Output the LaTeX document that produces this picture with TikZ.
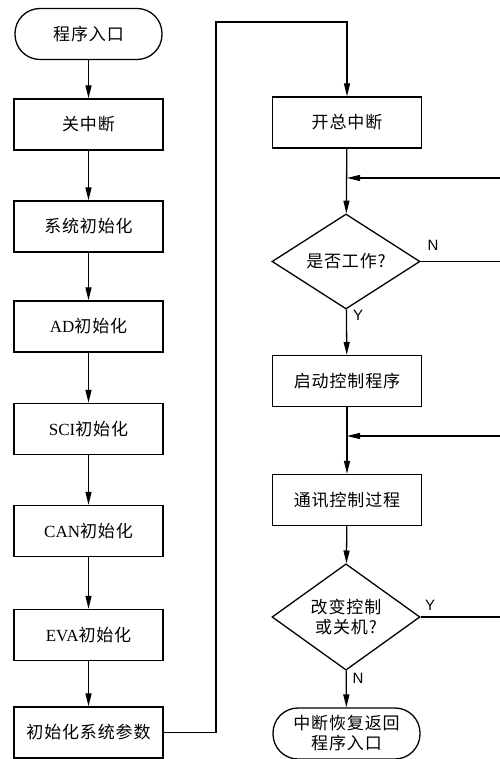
\documentclass[tikz,border=0pt]{standalone}
\usepackage{fontspec}
\setmainfont{Liberation Serif}
\newfontfamily\cjk[LetterSpace=5]{Noto Sans CJK SC}
\newfontfamily\labfont{Liberation Sans}
\usetikzlibrary{shapes.geometric,arrows.meta}

\tikzset{
    procbox/.style={draw, line width=1.3pt, minimum width=149pt, minimum height=51pt,
        inner sep=0pt, align=center, font=\cjk\fontsize{17}{20}\selectfont},
    termbox/.style={procbox, minimum width=147pt, rounded corners=25pt},
    decbox/.style={draw, diamond, line width=1.3pt, minimum width=148pt, minimum height=88pt,
        inner sep=0pt, align=center, font=\cjk\fontsize{17}{20}\selectfont},
    flowline/.style={line width=1.3pt, -{Triangle[length=13pt,width=6pt]}},
    plainline/.style={line width=1.3pt},
    yn/.style={font=\labfont\fontsize{15}{16}\selectfont, inner sep=1pt}
}

\begin{document}
\begin{tikzpicture}[x=1pt,y=1pt]
        \useasboundingbox (0,0) rectangle (499,759);

        % left column
        \node[termbox] (start)  at (88.5,725)   {程序入口};
        \node[procbox] (guan)   at (88.5,634.5) {关中断};
        \node[procbox] (xitong) at (88.5,532.5) {系统初始化};
        \node[procbox] (ad)     at (88.5,432.5) {{\rmfamily AD}初始化};
        \node[procbox] (sci)    at (88.5,330)   {{\rmfamily SCI}初始化};
        \node[procbox] (can)    at (88.5,228)   {{\rmfamily CAN}初始化};
        \node[procbox] (eva)    at (88.5,124)   {{\rmfamily EVA}初始化};
        \node[procbox] (canshu) at (88.5,26.5)  {初始化系统参数};

        % right column
        \node[procbox] (kaizong) at (347,636.5) {开总中断};
        \node[decbox]  (gongzuo) at (346,497.5) {是否工作?};
        \node[procbox] (qidong)  at (347,378)   {启动控制程序};
        \node[procbox] (tongxun) at (347,259)   {通讯控制过程};
        \node[decbox]  (gaibian) at (346,142)   {改变控制\\或关机?};
        \node[termbox] (fanhui)  at (346.5,25.5) {中断恢复返回\\程序入口};

        \coordinate (j1) at (347,581);
        \coordinate (j2) at (347,323);
        \coordinate (r1) at (506,581);
        \coordinate (r2) at (506,323);
        \coordinate (c1) at (216,26.5);
        \coordinate (c2) at (216,737);
        \coordinate (c3) at (347,737);

        \foreach \a/\b in {start/guan, guan/xitong, xitong/ad, ad/sci, sci/can, can/eva, eva/canshu}
            \draw[flowline] (\a) -- (\b);

        \draw[flowline] (canshu.east) -- (c1) -- (c2) -- (c3) -- (kaizong.north);
        \draw[flowline] (kaizong) -- (gongzuo);
        \draw[flowline] (gongzuo) -- (qidong);
        \draw[flowline] (qidong) -- (tongxun);
        \draw[flowline] (tongxun) -- (gaibian);
        \draw[flowline] (gaibian) -- (fanhui);

        % loops back (they run off the right edge)
        \draw[plainline] (gongzuo.east) -- (r1 |- gongzuo.east) -- (r1);
        \draw[flowline] (r1) -- (j1);
        \draw[plainline] (gaibian.east) -- (r2 |- gaibian.east) -- (r2);
        \draw[flowline] (r2) -- (j2);

        \node[yn] (n1) at (433,514) {N};
        \node[yn] (y1) at (358,444) {Y};
        \node[yn] (y2) at (430,154) {Y};
        \node[yn] (n2) at (358,81)  {N};
    \end{tikzpicture}
\end{document}
